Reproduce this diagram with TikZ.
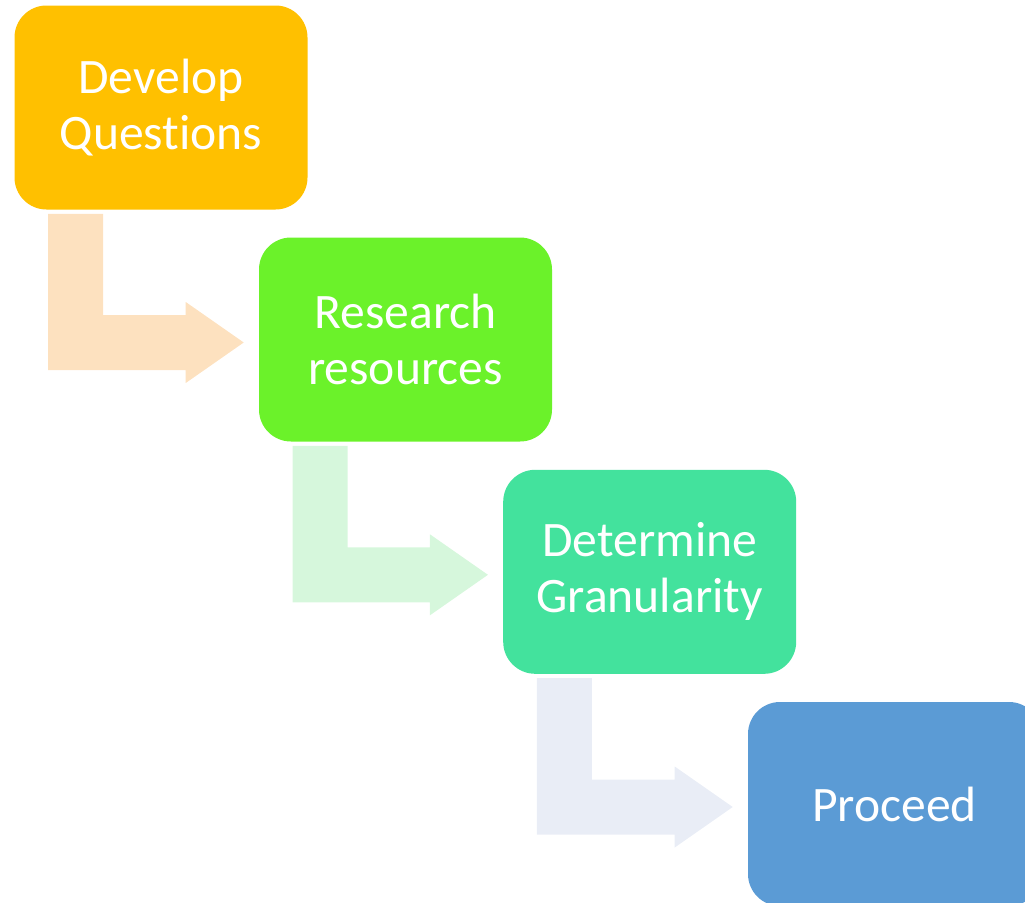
\documentclass[tikz,border=0pt]{standalone}
\usepackage{fontspec}
\setmainfont{Carlito}[RawFeature={-liga;-clig;-calt}]
\usepackage{tikz}
\usetikzlibrary{calc}
\definecolor{qorange}{HTML}{FFC000}
\definecolor{rgreen}{HTML}{6BF22A}
\definecolor{gteal}{HTML}{43E29D}
\definecolor{pblue}{HTML}{5B9BD5}
\definecolor{qpeach}{HTML}{FDE1BF}
\definecolor{rmint}{HTML}{D6F7DC}
\definecolor{gpale}{HTML}{E9EDF6}
\tikzstyle{stepbox} = [rectangle, rounded corners=24pt, minimum width=219.75pt, minimum height=153pt, inner sep=0pt, align=center, text=white, font=\fontsize{37.2}{42}\selectfont]
% bent arrow from the foot of one box to the side of the next
\newcommand{\bentarrow}[3]{%
    \coordinate (#2-top) at ($(#2.south west)+(34,4)$);
    \coordinate (#2-tip) at ($(#3.west)+(-15,3)$);
    \fill[#1] (#2-top) -- ++(55,0) |- ($(#2-tip)+(-58,-27.5)$) -- ++(0,-13) -- (#2-tip)
        -- ($(#2-tip)+(-58,40.5)$) -- ++(0,-13) -| (#2-top) -- cycle;}
\begin{document}
\begin{tikzpicture}[x=0.75pt, y=-0.75pt]
    \useasboundingbox (0,0) rectangle (1025,903);

    % Steps
    \node[stepbox, fill=qorange] (develop) at (161,107.5) {Develop\\Questions};
    \node[stepbox, fill=rgreen] (research) at (405.5,339.5) {Research\\resources};
    \node[stepbox, fill=gteal] (granularity) at (649.7,571.8) {Determine\\Granularity};
    \node[stepbox, fill=pblue] (proceed) at (894.5,804) {Proceed};

    % Arrows between steps
    \bentarrow{qpeach}{develop}{research}
    \bentarrow{rmint}{research}{granularity}
    \bentarrow{gpale}{granularity}{proceed}
\end{tikzpicture}
\end{document}
